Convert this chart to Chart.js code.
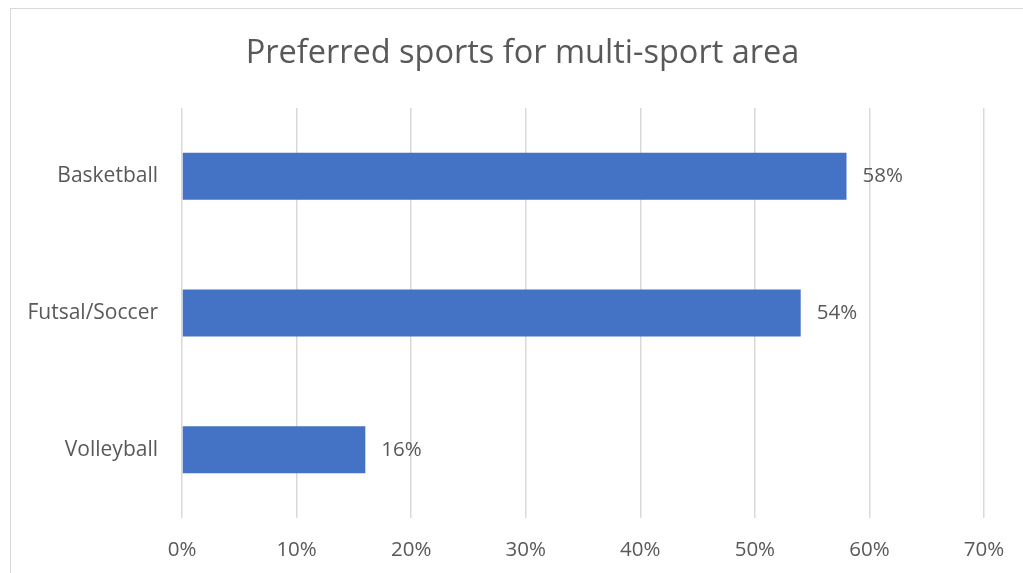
<!DOCTYPE html>
<html>
<head>
<meta charset="utf-8">
<script src="https://cdn.jsdelivr.net/npm/chart.js@4.4.0/dist/chart.umd.min.js"></script>
<style>
  html, body { margin: 0; padding: 0; background: #ffffff; overflow: hidden; width: 1023px; height: 573px; }
  #frame { position: absolute; left: 10px; top: 8px; width: 1040px; height: 600px; border-top: 1px solid #d9d9d9; border-left: 1px solid #d9d9d9; box-sizing: border-box; }
  #wrap { position: absolute; left: 0; top: 0; width: 1023px; height: 565px; }
</style>
</head>
<body>
<div id="frame"><div id="wrap"><canvas id="c"></canvas></div></div>
<script>
const categories = ["Basketball", "Futsal/Soccer", "Volleyball"];
const values = [58, 54, 16];
const tickValues = [0, 10, 20, 30, 40, 50, 60, 70];
const titleText = "Preferred sports for multi-sport area";

const FONT = "'Open Sans', 'Liberation Sans', sans-serif";
const TEXT = "#595959";

const valueLabels = {
  id: 'valueLabels',
  afterDatasetsDraw(chart) {
    const ctx = chart.ctx;
    const meta = chart.getDatasetMeta(0);
    ctx.save();
    ctx.font = "20.5px " + FONT;
    ctx.fillStyle = TEXT;
    ctx.textAlign = 'left';
    ctx.textBaseline = 'middle';
    meta.data.forEach((bar, i) => {
      ctx.fillText(values[i] + '%', bar.x + 16, bar.y);
    });
    ctx.restore();
  }
};

new Chart(document.getElementById('c'), {
  type: 'bar',
  data: {
    labels: categories,
    datasets: [{
      data: values,
      backgroundColor: '#4472C4',
      borderWidth: 0,
      barPercentage: 0.344,
      categoryPercentage: 1
    }]
  },
  plugins: [valueLabels],
  options: {
    indexAxis: 'y',
    responsive: true,
    maintainAspectRatio: false,
    animation: false,
    layout: { padding: 0 },
    plugins: {
      legend: { display: false },
      tooltip: { enabled: false },
      title: {
        display: true,
        text: titleText,
        color: TEXT,
        font: { family: FONT, size: 32.5, weight: 'normal', lineHeight: 1.2 },
        padding: { top: 25, bottom: 35 }
      }
    },
    scales: {
      x: {
        min: 0, max: 70,
        afterBuildTicks(scale) { scale.ticks = tickValues.map(v => ({ value: v })); },
        afterFit(scale) { scale.height = 56; scale.paddingRight = 50; },
        ticks: {
          color: TEXT,
          font: { family: FONT, size: 20.5 },
          padding: 20,
          callback: v => v + '%'
        },
        grid: { color: '#d9d9d9', lineWidth: 1.5, drawTicks: false },
        border: { display: false }
      },
      y: {
        afterFit(scale) { scale.width = 171; },
        ticks: {
          color: TEXT,
          font: { family: FONT, size: 21 },
          padding: 24
        },
        grid: { display: false, drawTicks: false },
        border: { display: false }
      }
    }
  }
});
</script>
</body>
</html>
